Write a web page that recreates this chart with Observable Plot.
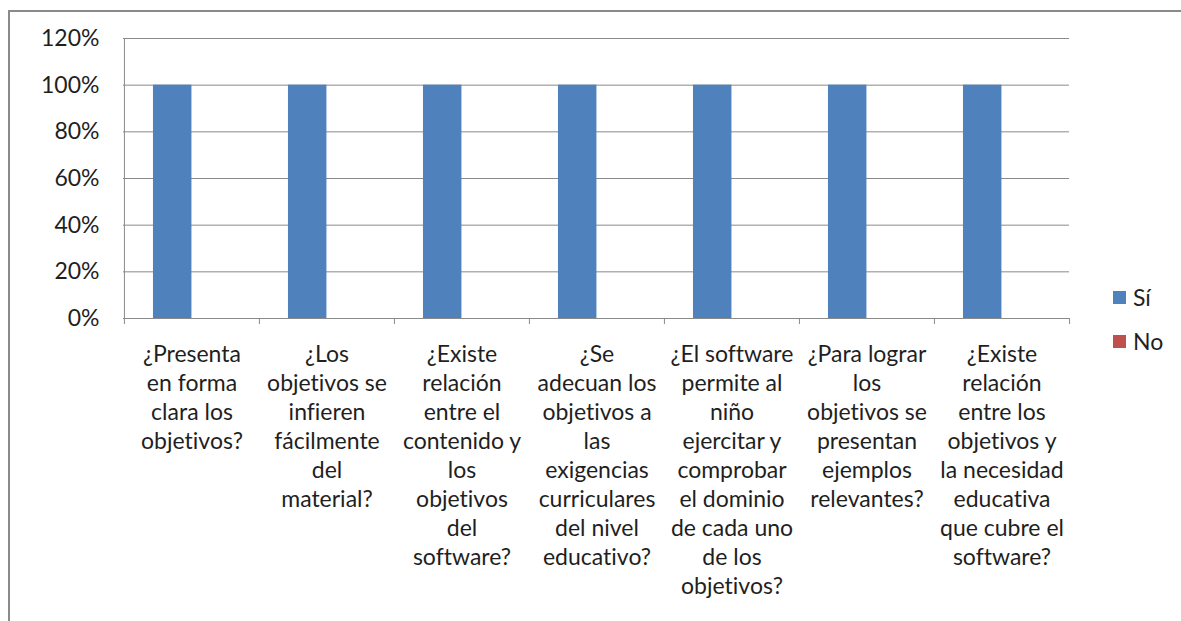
<!DOCTYPE html>
<html><head><meta charset="utf-8">
<script src="https://cdn.jsdelivr.net/npm/d3@7"></script>
<script src="https://cdn.jsdelivr.net/npm/@observablehq/plot@0.6"></script>
<style>
body{margin:0;background:#fff;}
#wrap{position:relative;width:1181px;height:621px;overflow:hidden;font-family:Lato, sans-serif;color:#1f1f1f;font-variant-ligatures:none;font-feature-settings:"liga" 0, "clig" 0, "dlig" 0;}
#border{position:absolute;left:8px;top:10px;width:1200px;height:640px;border-top:2px solid #8a8a8a;border-left:2px solid #8a8a8a;}
#chart{position:absolute;left:0;top:0;}
#chart svg text, #chart svg tspan{font-variant-ligatures:none !important;font-feature-settings:"liga" 0, "clig" 0, "dlig" 0 !important;}
#legend{position:absolute;left:1113px;top:275px;font-size:23px;line-height:44px;}
#legend div{display:flex;align-items:center;}
#legend span.sw{display:inline-block;width:13px;height:13px;margin-right:7px;}
</style></head>
<body><div id="wrap"><div id="border"></div><div id="chart"></div><div id="legend"></div></div>
<script>
const categories = [
  "¿Presenta en forma clara los objetivos?",
  "¿Los objetivos se infieren fácilmente del material?",
  "¿Existe relación entre el contenido y los objetivos del software?",
  "¿Se adecuan los objetivos a las exigencias curriculares del nivel educativo?",
  "¿El software permite al niño ejercitar y comprobar el dominio de cada uno de los objetivos?",
  "¿Para lograr los objetivos se presentan ejemplos relevantes?",
  "¿Existe relación entre los objetivos y la necesidad educativa que cubre el software?"
];
const labels = [
  "¿Presenta\nen forma\nclara los\nobjetivos?",
  "¿Los\nobjetivos se\ninfieren\nfácilmente\ndel\nmaterial?",
  "¿Existe\nrelación\nentre el\ncontenido y\nlos\nobjetivos\ndel\nsoftware?",
  "¿Se\nadecuan los\nobjetivos a\nlas\nexigencias\ncurriculares\ndel nivel\neducativo?",
  "¿El software\npermite al\nniño\nejercitar y\ncomprobar\nel dominio\nde cada uno\nde los\nobjetivos?",
  "¿Para lograr\nlos\nobjetivos se\npresentan\nejemplos\nrelevantes?",
  "¿Existe\nrelación\nentre los\nobjetivos y\nla necesidad\neducativa\nque cubre el\nsoftware?"
];
const series = ["Sí", "No"];
const siValues = [1, 1, 1, 1, 1, 1, 1];
const noValues = [0, 0, 0, 0, 0, 0, 0];
const colors = ["#4F81BD", "#C0504D"];
const yTicks = [0, 0.2, 0.4, 0.6, 0.8, 1.0, 1.2];

const W = 1181, H = 621, mL = 123, mR = 112, mT = 38, mB = 303;
const step = (W - mL - mR) / categories.length;
const bw = step / 3.5;
const siData = categories.map((c, i) => ({cat: c, series: series[0], value: siValues[i]}));
const noData = categories.map((c, i) => ({cat: c, series: series[1], value: noValues[i]}));
const grid = "#8a8a8a";

const chart = Plot.plot({
  width: W, height: H,
  marginLeft: mL, marginRight: mR, marginTop: mT, marginBottom: mB,
  style: {fontFamily: "Lato, sans-serif", fontSize: "23px", color: "#1f1f1f", background: "transparent", overflow: "visible"},
  x: {domain: categories, padding: 0, label: null},
  y: {domain: [0, 1.2], label: null},
  color: {domain: series, range: colors},
  marks: [
    Plot.gridY(yTicks, {stroke: grid, strokeOpacity: 1}),
    Plot.barY(siData, {x: "cat", y: "value", fill: "series", insetLeft: 0.75 * bw, insetRight: step - 1.75 * bw}),
    Plot.barY(noData, {x: "cat", y: "value", fill: "series", insetLeft: 1.75 * bw, insetRight: 0.75 * bw}),
    Plot.ruleX([categories[0]], {dx: -step / 2, stroke: grid}),
    Plot.ruleY([0], {stroke: grid}),
    Plot.ruleX(categories, {dx: -step / 2, y1: 0, y2: 0, insetBottom: -6, stroke: grid}),
    Plot.ruleX([categories[categories.length - 1]], {dx: step / 2, y1: 0, y2: 0, insetBottom: -6, stroke: grid}),
    Plot.axisY({ticks: yTicks, tickSize: 0, tickPadding: 24, tickFormat: d3.format(".0%"), label: null, fontSize: 23}),
    Plot.axisX({tickSize: 0, tickPadding: 23, label: null, lineHeight: 29 / 23, textOverflow: null,
      tickFormat: d => labels[categories.indexOf(d)], fontSize: 23})
  ]
});
document.getElementById("chart").appendChild(chart);

const legend = document.getElementById("legend");
series.forEach((s, i) => {
  const row = document.createElement("div");
  row.innerHTML = `<span class="sw" style="background:${colors[i]}"></span><span>${s}</span>`;
  legend.appendChild(row);
});
</script>
</body></html>
